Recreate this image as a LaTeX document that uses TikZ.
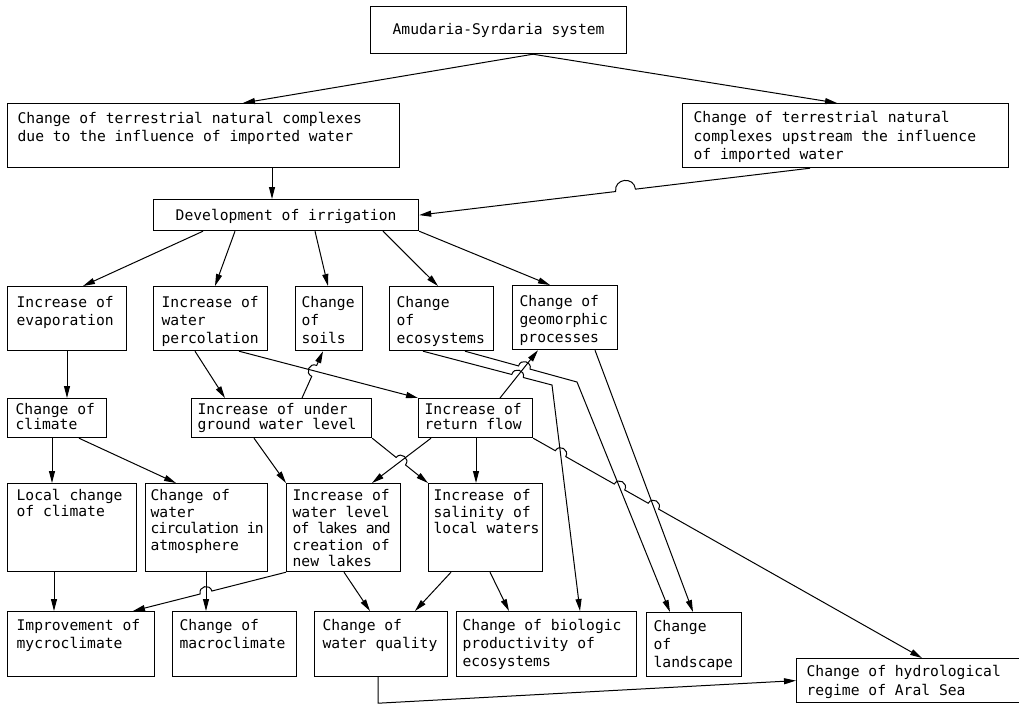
\documentclass[tikz,border=0pt]{standalone}
\usepackage{fontspec}
\setmainfont{DejaVu Sans Mono}
\usetikzlibrary{arrows.meta,calc}

% one drawing unit = one pixel
\newlength\upx \setlength\upx{0.75pt}

% left-aligned box text: width, height, top inset, left inset, line pitch, text
\newcommand\flowbox[6]{\parbox[t][#2\upx][t]{#1\upx}{\fontsize{11pt}{14pt}\selectfont
  \baselineskip=#5\upx\relax\raggedright\rightskip=-60pt plus 1fil\relax\leftskip=#4\upx\relax
  \vspace*{#3\upx}\noindent\rule{0pt}{8pt}#6}}
% centred one-line box text: width, height, top inset, text
\newcommand\headbox[4]{\parbox[t][#2\upx][t]{#1\upx}{\fontsize{11pt}{14pt}\selectfont
  \centering\vspace*{#3\upx}\rule{0pt}{8pt}#4}}
% slightly closer set line for narrow boxes
\newcommand\tightline[1]{{\addfontfeature{LetterSpace=-6}#1}}

\tikzset{
  box/.style={draw, line width=0.9pt, inner sep=0pt, anchor=north west},
  arr/.style={draw, line width=0.75pt, -{Triangle[length=9pt,width=4.5pt]}},
  hopL/.style={bend left=90, looseness=1.7},
  hopR/.style={bend right=90, looseness=1.7}
}

\begin{document}
\begin{tikzpicture}[x=0.75pt, y=-0.75pt]
\fill[white] (0,0) rectangle (1019,704);
\useasboundingbox (0,0) rectangle (1019,704);

% ---------- boxes ----------
\node[box] (sys)   at (370,6)   {\headbox{256}{47}{17}{Amudaria-Syrdaria system}};
\node[box] (dueto) at (7,103)   {\flowbox{392}{64}{9}{10}{18}{Change of terrestrial natural complexes\\due to the influence of imported water}};
\node[box] (up)    at (682,103) {\flowbox{326}{64}{8}{11}{18.5}{Change of terrestrial natural\\complexes upstream the influence\\of imported water}};
\node[box] (dev)   at (153,199) {\headbox{265}{31}{10}{Development of irrigation}};

\node[box] (evap)  at (7,286)   {\flowbox{119}{64}{9.5}{9}{18}{Increase of\\evaporation}};
\node[box] (perc)  at (153,286) {\flowbox{114}{64}{9.5}{8}{18}{Increase of\\water\\percolation}};
\node[box] (soils) at (295,286) {\flowbox{67}{64}{9.5}{6}{18}{Change\\of\\soils}};
\node[box] (eco)   at (389,286) {\flowbox{104}{64}{9.5}{7}{18}{Change\\of\\ecosystems}};
\node[box] (geo)   at (512,285) {\flowbox{105}{64}{9.5}{7}{18}{Change of\\geomorphic\\processes}};

\node[box] (clim)  at (7,398)   {\flowbox{99}{39}{5}{8}{15}{Change of\\climate}};
\node[box] (ugw)   at (191,398) {\flowbox{180}{39}{5}{6}{15}{Increase of under\\ground water level}};
\node[box] (ret)   at (418,398) {\flowbox{114}{39}{5}{6}{15}{Increase of\\return flow}};

\node[box] (loc)   at (7,483)   {\flowbox{129}{88}{6}{9}{16}{Local change\\of climate}};
\node[box] (circ)  at (145,483) {\flowbox{122}{88}{6}{5}{16.5}{Change of\\water\\\tightline{circulation in}\\atmosphere}};
\node[box] (lakes) at (286,483) {\flowbox{114}{88}{6}{6}{16.5}{Increase of\\water level\\\tightline{of lakes and}\\creation of\\new lakes}};
\node[box] (sal)   at (428,483) {\flowbox{114}{88}{6}{5}{16.5}{Increase of\\salinity of\\local waters}};

\node[box] (impr)  at (7,611)   {\flowbox{147}{65}{8}{9}{18}{Improvement of\\mycroclimate}};
\node[box] (macro) at (172,611) {\flowbox{124}{65}{8}{7}{18}{Change of\\macroclimate}};
\node[box] (wq)    at (314,611) {\flowbox{133}{65}{8}{8}{18}{Change of\\water quality}};
\node[box] (bio)   at (456,611) {\flowbox{180}{65}{8}{6}{18}{Change of biologic\\productivity of\\ecosystems}};
\node[box] (land)  at (646,612) {\flowbox{95}{64}{8}{7}{18}{Change\\of\\landscape}};
\node[box] (aral)  at (796,658) {\flowbox{230}{44}{7}{10}{19}{Change of hydrological\\regime of Aral Sea}};

% ---------- top level ----------
\coordinate (sysS) at ($(sys.south west)+(163,0)$);
\draw[arr] (sysS) -- ($(dueto.north west)+(236,0)$);
\draw[arr] (sysS) -- ($(up.north west)+(155,0)$);
\draw[arr] ($(dueto.south west)+(265,0)$) -- ($(dev.north west)+(119,0)$);
\coordinate (upS) at ($(up.south west)+(128,0)$);
\coordinate (devE) at (dev.east);
\coordinate (h0) at ($(upS)!0.472!(devE)$);
\draw[arr] (upS) -- ($(h0)!7.5pt!(upS)$) to[hopR] ($(h0)!7.5pt!(devE)$) -- (devE);

% ---------- irrigation effects ----------
\draw[arr] ($(dev.south west)+(50,0)$)  -- ($(evap.north west)+(76,0)$);
\draw[arr] ($(dev.south west)+(82,0)$)  -- ($(perc.north west)+(62,0)$);
\draw[arr] ($(dev.south west)+(162,0)$) -- ($(soils.north west)+(33,0)$);
\draw[arr] ($(dev.south west)+(230,0)$) -- ($(eco.north west)+(49,0)$);
\draw[arr] (dev.south east) -- ($(geo.north west)+(38,0)$);

% ---------- second level ----------
\draw[arr] ($(evap.south west)+(60,0)$) -- ($(clim.north west)+(60,0)$);
\draw[arr] ($(perc.south west)+(42,0)$) -- ($(ugw.north west)+(34,0)$);
\coordinate (pR) at ($(perc.south west)+(86,0)$);
\coordinate (rNW) at (ret.north west);
\draw[arr] (pR) -- (rNW);
\coordinate (uN) at ($(ugw.north west)+(111,0)$);
\coordinate (sS) at ($(soils.south west)+(28,0)$);
\coordinate (h1) at (intersection of uN--sS and pR--rNW);
\draw[arr] (uN) -- ($(h1)!4.5pt!(uN)$) to[hopL] ($(h1)!4.5pt!(sS)$) -- (sS);

\coordinate (rN) at ($(ret.north west)+(82,0)$);
\coordinate (gS) at ($(geo.south west)+(26,0)$);
\draw[arr] (rN) -- (gS);

% ecosystems -> biologic productivity
\coordinate (eA) at ($(eco.south west)+(34,0)$);
\coordinate (kA) at (552,385);
\coordinate (bA) at ($(bio.north west)+(124,0)$);
\coordinate (h2) at (intersection of eA--kA and rN--gS);
\draw[arr] (eA) -- ($(h2)!4.5pt!(eA)$) to[hopL] ($(h2)!4.5pt!(kA)$) -- (kA) -- (bA);

% ecosystems -> landscape
\coordinate (eB) at ($(eco.south west)+(76,0)$);
\coordinate (kB) at (577,382);
\coordinate (lB) at ($(land.north west)+(24,0)$);
\coordinate (h3) at (intersection of eB--kB and rN--gS);
\draw[arr] (eB) -- ($(h3)!4.5pt!(eB)$) to[hopL] ($(h3)!4.5pt!(kB)$) -- (kB) -- (lB);

% geomorphic processes -> landscape
\coordinate (gC) at ($(geo.south west)+(83,0)$);
\coordinate (lC) at ($(land.north west)+(47,0)$);
\draw[arr] (gC) -- (lC);

% ---------- third level ----------
\draw[arr] ($(clim.south west)+(45,0)$) -- ($(loc.north west)+(45,0)$);
\draw[arr] ($(clim.south west)+(72,0)$) -- ($(circ.north west)+(31,0)$);
\draw[arr] ($(ugw.south west)+(63,0)$) -- (lakes.north west);
\coordinate (rL) at ($(ret.south west)+(13,0)$);
\coordinate (lN) at ($(lakes.north west)+(86,0)$);
\draw[arr] (rL) -- (lN);
\coordinate (uSE) at (ugw.south east);
\coordinate (sNW) at (sal.north west);
\coordinate (h4) at (intersection of uSE--sNW and rL--lN);
\draw[arr] (uSE) -- ($(h4)!4.5pt!(uSE)$) to[hopL] ($(h4)!4.5pt!(sNW)$) -- (sNW);
\draw[arr] ($(ret.south west)+(58,0)$) -- ($(sal.north west)+(48,0)$);

% return flow -> Aral Sea
\coordinate (rSE) at (ret.south east);
\coordinate (aN) at ($(aral.north west)+(126,0)$);
\coordinate (h5) at (intersection of rSE--aN and kA--bA);
\coordinate (h6) at (intersection of rSE--aN and kB--lB);
\coordinate (h7) at (intersection of rSE--aN and gC--lC);
\draw[arr] (rSE) -- ($(h5)!4.5pt!(rSE)$) to[hopL] ($(h5)!4.5pt!(aN)$)
  -- ($(h6)!4.5pt!(rSE)$) to[hopL] ($(h6)!4.5pt!(aN)$)
  -- ($(h7)!4.5pt!(rSE)$) to[hopL] ($(h7)!4.5pt!(aN)$) -- (aN);

% ---------- bottom level ----------
\draw[arr] ($(loc.south west)+(47,0)$) -- ($(impr.north west)+(47,0)$);
\coordinate (cS) at ($(circ.south west)+(61,0)$);
\coordinate (mN) at ($(macro.north west)+(34,0)$);
\draw[arr] (cS) -- (mN);
\coordinate (lSW) at (lakes.south west);
\coordinate (iN) at ($(impr.north west)+(126,0)$);
\coordinate (h8) at (intersection of lSW--iN and cS--mN);
\draw[arr] (lSW) -- ($(h8)!4.5pt!(lSW)$) to[hopR] ($(h8)!4.5pt!(iN)$) -- (iN);
\draw[arr] ($(lakes.south west)+(58,0)$) -- ($(wq.north west)+(56,0)$);
\draw[arr] ($(sal.south west)+(23,0)$) -- ($(wq.north west)+(101,0)$);
\draw[arr] ($(sal.south west)+(62,0)$) -- ($(bio.north west)+(53,0)$);

% water quality -> Aral Sea
\coordinate (wS) at ($(wq.south west)+(64,0)$);
\coordinate (wK) at ($(wS)+(0,26)$);
\draw[arr] (wS) -- (wK) -- (aral.west);
\end{tikzpicture}
\end{document}
